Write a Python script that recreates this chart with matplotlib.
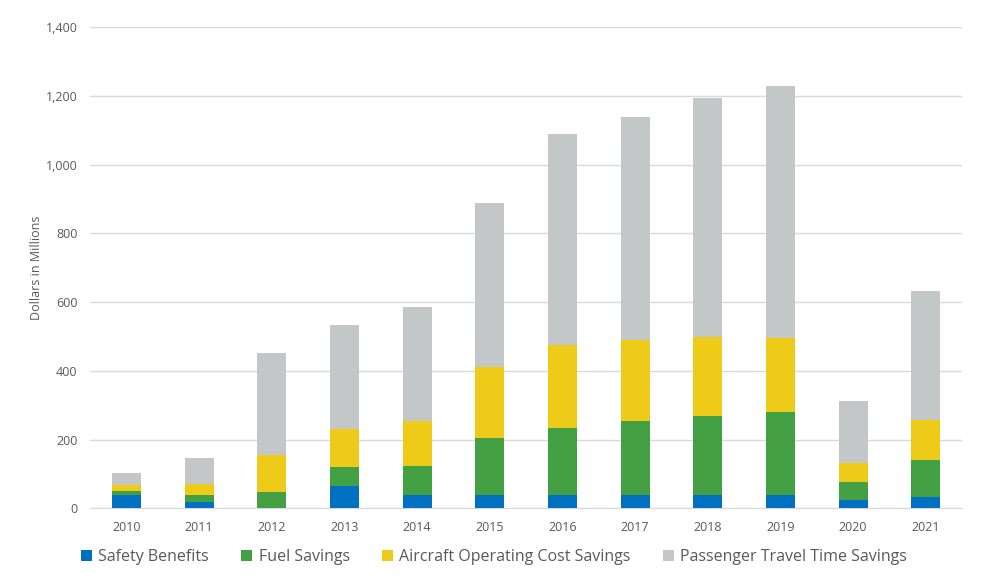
import matplotlib
matplotlib.use("Agg")
import matplotlib.pyplot as plt
import numpy as np

plt.rcParams["font.family"] = ["Open Sans", "DejaVu Sans"]

# ── data (millions of dollars) ──
YEARS = ["2010", "2011", "2012", "2013", "2014", "2015",
         "2016", "2017", "2018", "2019", "2020", "2021"]
SAFETY = [39, 18, 0, 65, 40, 40, 40, 40, 39, 39, 24, 33]
FUEL = [11, 21, 47, 55, 83, 164, 193, 215, 229, 241, 52, 107]
AIRCRAFT = [18, 33, 108, 111, 132, 207, 242, 235, 230, 216, 55, 118]
PASSENGER = [35, 74, 296, 302, 330, 477, 613, 647, 695, 732, 180, 374]

SERIES = [
    ("Safety Benefits", SAFETY, "#0070C0"),
    ("Fuel Savings", FUEL, "#43A144"),
    ("Aircraft Operating Cost Savings", AIRCRAFT, "#EECA19"),
    ("Passenger Travel Time Savings", PASSENGER, "#C4C7C8"),
]

TEXT = "#595959"
GRID = "#D9D9D9"

fig = plt.figure(figsize=(9.82, 5.88), dpi=100)
ax = fig.add_axes([0.0917, 0.1355, 0.888, 0.8185])

x = np.arange(len(YEARS))
bottom = np.zeros(len(YEARS))
for label, vals, color in SERIES:
    ax.bar(x, vals, 0.4, bottom=bottom, color=color, label=label, zorder=3)
    bottom += np.array(vals)

ax.set_xlim(-0.5, len(YEARS) - 0.5)
ax.set_ylim(0, 1400)
ax.set_yticks(range(0, 1401, 200))
ax.set_yticklabels([f"{v:,}" for v in range(0, 1401, 200)])
ax.set_xticks(x)
ax.set_xticklabels(YEARS)
ax.tick_params(axis="both", length=0, labelsize=9, colors=TEXT)
ax.tick_params(axis="x", pad=9)
ax.tick_params(axis="y", pad=9)

for s in ["top", "right", "left"]:
    ax.spines[s].set_visible(False)
ax.spines["bottom"].set_color(GRID)
ax.yaxis.grid(True, color=GRID, linewidth=1)
ax.set_axisbelow(True)

ax.set_ylabel("Dollars in Millions", color=TEXT, fontsize=9, labelpad=2)

handles, labels = ax.get_legend_handles_labels()
fig.legend(handles, labels, loc="center", bbox_to_anchor=(0.503, 0.053),
           ncol=4, frameon=False, fontsize=11.5, labelcolor=TEXT,
           handlelength=0.7, handleheight=0.7, handletextpad=0.4,
           columnspacing=2.0)

fig.savefig("out.png", dpi=100, facecolor="white")
